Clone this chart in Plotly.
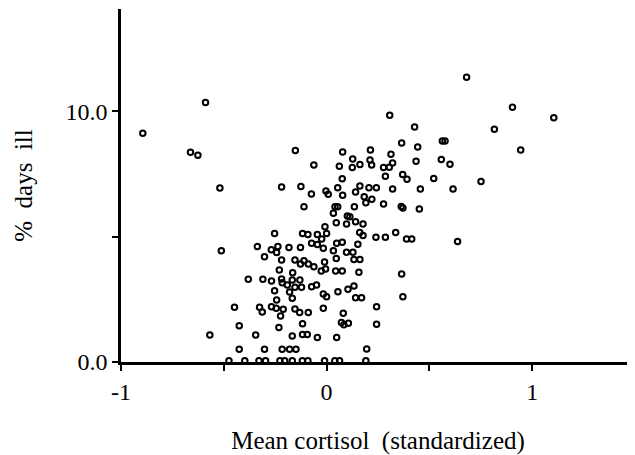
import plotly.graph_objects as go

# Mean cortisol (standardized) vs % days ill
cortisol = [
    -0.589, -0.894, -0.662, -0.626, -0.519, -0.219, -0.152, -0.125, -0.062, -0.074,
    -0.110, -0.003, 0.008, 0.681, 0.904, 0.816, 0.944, 1.105, 0.307, 0.428,
    0.365, 0.443, 0.563, 0.576, 0.078, 0.213, 0.313, 0.127, 0.211, 0.062,
    0.125, 0.162, 0.219, 0.321, 0.277, 0.305, 0.435, 0.558, 0.600, 0.286,
    0.370, 0.391, 0.521, 0.751, 0.076, 0.054, 0.078, 0.141, 0.162, 0.206,
    0.242, 0.183, 0.191, 0.220, 0.277, 0.321, 0.456, 0.615, 0.041, 0.054,
    0.135, 0.363, 0.371, 0.451, 0.637, -0.253, -0.117, -0.091, -0.045, -0.008,
    0.000, -0.024, -0.073, -0.045, -0.016, -0.512, -0.337, -0.302, -0.269, -0.243,
    -0.237, -0.183, -0.127, -0.219, -0.154, -0.127, -0.110, -0.089, -0.062, -0.026,
    -0.010, -0.005, -0.230, -0.165, -0.381, -0.310, -0.268, -0.219, -0.216, -0.191,
    -0.167, -0.130, -0.154, -0.122, -0.073, -0.049, -0.253, -0.180, -0.167, -0.243,
    -0.016, 0.000, -0.448, -0.326, -0.313, -0.268, -0.245, -0.211, -0.224, -0.154,
    -0.131, -0.089, -0.016, -0.425, -0.232, -0.117, -0.568, -0.345, -0.167, -0.117,
    -0.094, -0.045, -0.425, -0.302, -0.216, -0.180, -0.149, -0.475, -0.398, -0.329,
    -0.297, -0.227, -0.204, -0.167, -0.118, -0.091, -0.010, 0.101, 0.113, 0.033,
    0.047, 0.097, 0.141, 0.177, 0.161, 0.177, 0.240, 0.286, 0.336, 0.389,
    0.414, 0.049, 0.076, 0.152, 0.033, 0.097, 0.128, 0.047, 0.133, 0.162,
    0.044, 0.076, 0.157, 0.365, 0.055, 0.104, 0.133, 0.141, 0.170, 0.371,
    0.243, 0.081, 0.072, 0.084, 0.106, 0.243, 0.049, 0.195, 0.040, 0.063,
    0.191,
]
days_ill = [
    10.34, 9.12, 8.36, 8.24, 6.94, 6.98, 8.43, 7.00, 7.85, 6.70,
    6.19, 6.82, 6.69, 11.35, 10.15, 9.28, 8.45, 9.74, 9.84, 9.37,
    8.73, 8.57, 8.81, 8.81, 8.37, 8.45, 8.28, 8.09, 8.05, 7.80,
    7.75, 7.87, 7.85, 7.93, 7.75, 7.76, 8.00, 8.07, 7.88, 7.40,
    7.47, 7.28, 7.31, 7.19, 7.30, 6.95, 6.65, 6.78, 7.02, 6.95,
    6.95, 6.59, 6.35, 6.49, 6.30, 6.90, 6.90, 6.90, 6.19, 6.19,
    6.19, 6.20, 6.14, 6.10, 4.80, 5.12, 5.12, 5.08, 5.08, 5.39,
    5.12, 4.90, 4.73, 4.68, 4.53, 4.43, 4.60, 4.20, 4.47, 4.36,
    4.60, 4.56, 4.56, 4.07, 4.07, 3.91, 4.04, 3.91, 3.80, 3.63,
    3.99, 3.71, 3.67, 3.56, 3.30, 3.30, 3.23, 3.31, 3.16, 3.07,
    3.27, 3.27, 2.98, 2.98, 3.00, 3.07, 2.84, 2.79, 2.54, 2.47,
    2.71, 2.60, 2.18, 2.18, 1.99, 2.20, 2.14, 2.10, 1.83, 2.11,
    1.97, 1.97, 2.14, 1.44, 1.38, 1.52, 1.08, 1.08, 1.04, 1.10,
    1.10, 0.98, 0.51, 0.51, 0.51, 0.51, 0.51, 0.05, 0.05, 0.05,
    0.05, 0.05, 0.05, 0.05, 0.05, 0.05, 0.05, 5.82, 5.79, 5.93,
    5.55, 5.50, 5.59, 5.50, 5.16, 5.04, 4.97, 4.97, 5.16, 4.90,
    4.90, 4.73, 4.77, 4.69, 4.43, 4.37, 4.37, 4.13, 4.09, 4.09,
    3.63, 3.63, 3.58, 3.51, 2.80, 2.90, 3.03, 2.56, 2.56, 2.60,
    2.20, 1.94, 1.57, 1.48, 1.54, 1.50, 0.98, 0.52, 0.05, 0.05,
    0.05,
]

x_ticks = [-1, -0.5, 0, 0.5, 1]
x_labels = ['-1', '', '0', '', '1']
y_ticks = [0, 5, 10]
y_labels = ['0.0', '', '10.0']

TICK_FONT = dict(family='Liberation Serif', size=24, color='black')
TITLE_FONT = dict(family='Liberation Serif', size=25, color='black')

fig = go.Figure()
fig.add_trace(go.Scatter(
    x=cortisol, y=days_ill,
    mode='markers',
    cliponaxis=False,
    marker=dict(symbol='circle-open', size=5.5, color='black', line=dict(width=2, color='black')),
    showlegend=False,
))

# page body has an 8px margin, so the figure is trimmed to fit the window
fig.update_layout(
    width=627, height=447,
    paper_bgcolor='white', plot_bgcolor='white',
    margin=dict(l=113, r=0, t=1, b=93),
)
fig.update_xaxes(
    range=[-1, 1.5], showgrid=False, zeroline=False, automargin=False,
    showline=True, linecolor='black', linewidth=2.5,
    ticks='outside', ticklen=6, tickwidth=1.5, tickcolor='black',
    tickvals=x_ticks, ticktext=x_labels, tickfont=TICK_FONT,
    title=dict(text='Mean cortisol  (standardized)', standoff=28, font=TITLE_FONT),
)
fig.update_yaxes(
    range=[0, 14.07], showgrid=False, zeroline=False, automargin=False,
    showline=True, linecolor='black', linewidth=2.5,
    ticks='outside', ticklen=6, tickwidth=1.5, tickcolor='black',
    tickvals=y_ticks, ticktext=y_labels, tickfont=TICK_FONT,
    title=dict(text='%  days  ill', standoff=26, font=TITLE_FONT),
)

fig.write_html('out.html')
